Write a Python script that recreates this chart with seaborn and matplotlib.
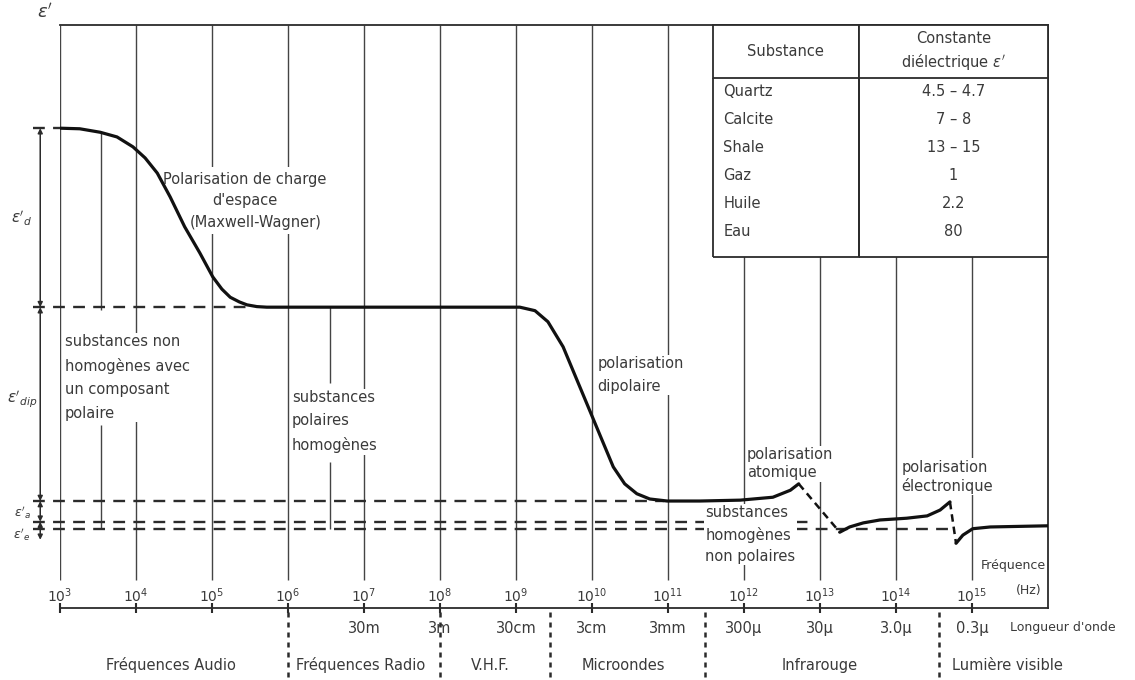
import numpy as np
import matplotlib
matplotlib.use("Agg")
import matplotlib.pyplot as plt
import seaborn as sns
from matplotlib.table import Table
from matplotlib.patches import Rectangle
from matplotlib.ticker import NullLocator

# courbe eps' = f(frequence) ; x en exposant de 10 (Hz), eps' en unites arbitraires
log_f_basse = [3.00, 3.26, 3.53, 3.75, 3.96, 4.12, 4.28, 4.45, 4.64, 4.84,
               5.01, 5.13, 5.24, 5.36, 5.46, 5.59, 5.72,
               9.05, 9.25, 9.42, 9.62, 9.78, 9.95, 10.11, 10.28, 10.43, 10.59,
               10.76, 10.99, 11.42, 11.95, 12.38, 12.61, 12.72]
eps_basse = [82.3, 82.2, 81.6, 80.8, 79.1, 77.2, 74.6, 70.5, 65.4, 60.9,
             56.8, 54.7, 53.3, 52.5, 52.0, 51.7, 51.6,
             51.6, 51.0, 49.1, 44.8, 39.8, 34.5, 29.5, 24.2, 21.3, 19.6,
             18.7, 18.35, 18.35, 18.5, 19.0, 20.2, 21.3]
log_f_ir = [13.26, 13.39, 13.57, 13.79, 14.14, 14.41, 14.58, 14.71]
eps_ir = [13.0, 13.9, 14.6, 15.1, 15.4, 15.8, 16.8, 18.2]
log_f_uv = [14.79, 14.88, 15.01, 15.24, 16.0]
eps_uv = [11.1, 12.5, 13.6, 13.9, 14.1]

# niveaux (eps_s, Maxwell-Wagner, dipolaire, atomique, eps_inf) et fin des tirets
niveaux = [82.3, 51.6, 18.35, 14.8, 13.6]
niveaux_fin = [3.0, 5.5, 10.95, 12.93, 14.78]
fleche_bas = 11.7
niveaux_labels = [r"$\epsilon'_d$", r"$\epsilon'_{dip}$", r"$\epsilon'_a$", r"$\epsilon'_e$"]
niveaux_labels_y = [66.9, 35.7, 16.4, 12.5]

decades = [3, 4, 5, 6, 7, 8, 9, 10, 11, 12, 13, 14, 15]

long_onde_log = [7, 8, 9, 10, 11, 12, 13, 14, 15]
long_onde = ["30m", "3m", "30cm", "3cm", "3mm", "300µ", "30µ", "3.0µ", "0.3µ"]

bandes = ["Fréquences Audio", "Fréquences Radio", "V.H.F.", "Microondes", "Infrarouge"]
bandes_log = [4.46, 6.96, 8.66, 10.41, 12.99]
limites_bandes = [6.0, 8.0, 9.45, 11.49, 14.57]

# traits de rappel (x, y haut, y bas)
rappels_log = [3.54, 3.54, 6.55, 6.55]
rappels_haut = [81.6, 31.4, 51.6, 25.0]
rappels_bas = [51.1, 13.6, 38.6, 13.6]

substances = ["Quartz", "Calcite", "Shale", "Gaz", "Huile", "Eau"]
constantes = ["4.5 – 4.7", "7 – 8", "13 – 15", "1", "2.2", "80"]

sns.set_theme(style="white")
plt.rcParams["font.family"] = ["DejaVu Sans"]
plt.rcParams["mathtext.fontset"] = "dejavusans"

encre = "#2b2b2b"
txt = "#3a3a3a"
fs = 10.5
blanc = dict(facecolor="white", edgecolor="none", pad=1.0)
blanc_large = dict(facecolor="white", edgecolor="none", pad=3.5)

fig = plt.figure(figsize=(11.35, 6.8), dpi=100)
ax = fig.add_axes([0.05286, 0.10588, 0.87048, 0.85735])
ax.set_xscale("log")
ax.set_xlim(1e3, 1e16)
ax.set_ylim(0, 100)

hz = lambda v: 10.0 ** np.asarray(v, dtype=float)

# grille verticale par decade
ax.vlines(hz(decades), 4.8, 100, color="#444444", lw=1.0, zorder=1.5)
for xl, y0, y1 in zip(rappels_log, rappels_haut, rappels_bas):
    ax.vlines(hz(xl), y1, y0, color="#444444", lw=1.0, zorder=1.5)

# niveaux en tirets
for niv, fin in zip(niveaux, niveaux_fin):
    ax.plot(hz([2.65, fin]), [niv, niv], color=encre, lw=1.7,
            ls=(0, (5, 3.5)), clip_on=False, zorder=2)

# fleches des contributions a gauche
bornes = niveaux[:4] + [fleche_bas]
for y0, y1 in zip(bornes[:-1], bornes[1:]):
    ax.annotate("", xy=(hz(2.74), y1), xytext=(hz(2.74), y0),
                arrowprops=dict(arrowstyle="<|-|>", color=encre, lw=1.1,
                                mutation_scale=7, shrinkA=0, shrinkB=0),
                annotation_clip=False)
for i, (lab, yl) in enumerate(zip(niveaux_labels, niveaux_labels_y)):
    ax.text(hz(2.5), yl, lab, ha="center", va="center",
            fontsize=11 if i < 2 else 9, color=txt, clip_on=False)
ax.text(hz(2.8), 102.2, r"$\epsilon'$", ha="center", va="center",
        fontsize=13, color=txt, clip_on=False)

# courbe
for lf, ep in [(log_f_basse, eps_basse), (log_f_ir, eps_ir), (log_f_uv, eps_uv)]:
    sns.lineplot(x=hz(lf), y=ep, ax=ax, color="#111111", lw=2.3,
                 sort=False, estimator=None, zorder=4)
for a, b in [((log_f_basse, eps_basse), (log_f_ir, eps_ir)),
             ((log_f_ir, eps_ir), (log_f_uv, eps_uv))]:
    ax.plot(hz([a[0][-1], b[0][0]]), [a[1][-1], b[1][0]], color="#111111",
            lw=1.8, ls=(0, (3, 2)), zorder=4)

# textes
ax.text(hz(5.43), 71.7, "Polarisation de charge\nd'espace",
        ha="center", va="center", fontsize=fs, color=txt, linespacing=1.45,
        bbox=blanc_large, zorder=3)
ax.text(hz(5.58), 66.2, "(Maxwell-Wagner)",
        ha="center", va="center", fontsize=fs, color=txt,
        bbox=blanc_large, zorder=3)
ax.text(hz(3.06), 47.0, "substances non\nhomogènes avec\nun composant\npolaire",
        ha="left", va="top", fontsize=fs, color=txt, linespacing=1.7,
        bbox=blanc, zorder=3)
ax.text(hz(6.05), 37.4, "substances\npolaires\nhomogènes", ha="left", va="top",
        fontsize=fs, color=txt, linespacing=1.7, bbox=blanc, zorder=3)
ax.text(hz(10.07), 43.2, "polarisation\ndipolaire", ha="left", va="top",
        fontsize=fs, color=txt, linespacing=1.65, bbox=blanc, zorder=3)
ax.text(hz(12.04), 27.6, "polarisation\natomique", ha="left", va="top",
        fontsize=fs, color=txt, linespacing=1.25, bbox=blanc, zorder=3)
ax.text(hz(14.07), 25.4, "polarisation\nélectronique", ha="left", va="top",
        fontsize=fs, color=txt, linespacing=1.2, bbox=blanc, zorder=3)
ax.text(hz(11.49), 17.6, "substances\nhomogènes\nnon polaires", ha="left",
        va="top", fontsize=fs, color=txt, linespacing=1.5, bbox=blanc, zorder=3)
ax.text(hz(15.97), 7.3, "Fréquence", ha="right", va="center", fontsize=9,
        color=txt, bbox=blanc, zorder=3)
ax.text(hz(15.92), 3.0, "(Hz)", ha="right", va="center", fontsize=9,
        color=txt, zorder=3)

# axe des frequences
ax.set_xticks(hz(decades), labels=[f"$10^{{{d}}}$" for d in decades])
ax.xaxis.set_minor_locator(NullLocator())
ax.set_yticks([])
ax.tick_params(axis="x", which="major", direction="inout", length=7, width=1.5,
               pad=-19, labelsize=10, color=encre, labelcolor=txt, bottom=True)
for side in ["top", "right", "bottom"]:
    ax.spines[side].set_color(encre)
    ax.spines[side].set_linewidth(1.3)
ax.spines["left"].set_visible(False)

sec = ax.secondary_xaxis("bottom")
sec.set_xticks(hz(long_onde_log), labels=long_onde)
sec.xaxis.set_minor_locator(NullLocator())
sec.tick_params(length=0, pad=9, labelsize=fs, labelcolor=txt)
sec.spines["bottom"].set_visible(False)
ax.text(hz(15.5), -3.3, "Longueur d'onde", ha="left", va="center",
        fontsize=9, color=txt, clip_on=False)

# bandes de frequences
for lab, xl in zip(bandes, bandes_log):
    ax.text(hz(xl), -9.8, lab, ha="center", va="center", fontsize=fs,
            color=txt, clip_on=False)
ax.text(hz(limites_bandes[-1] + 0.17), -9.8, "Lumière visible", ha="left",
        va="center", fontsize=fs, color=txt, clip_on=False)
ax.vlines(hz(limites_bandes), -0.7, -12.4, color=encre, lw=1.8,
          linestyles=(0, (2, 2)), clip_on=False)

# tableau des constantes dielectriques
cadre = [0.661, 0.602, 0.339, 0.398]
ax.add_patch(Rectangle(cadre[:2], cadre[2], cadre[3], transform=ax.transAxes,
                       facecolor="white", edgecolor="none", zorder=4.8))
tab = Table(ax, bbox=cadre)
larg = [146, 190]
entetes = ["Substance", "Constante\ndiélectrique " + r"$\epsilon'$"]
for c in range(2):
    cell = tab.add_cell(0, c, larg[c], 53, text=entetes[c], loc="center",
                        edgecolor=encre)
    cell.visible_edges = "closed"
lignes = list(zip(substances, constantes))
for r, (s, k) in enumerate(lignes, start=1):
    c0 = tab.add_cell(r, 0, larg[0], 28, text=s, loc="left", edgecolor=encre)
    c1 = tab.add_cell(r, 1, larg[1], 28, text=k, loc="center", edgecolor=encre)
    c0.visible_edges = "LR"
    c1.visible_edges = "LR"
n = len(lignes) + 1
for c in range(2):
    cell = tab.add_cell(n, c, larg[c], 12, text="", edgecolor=encre)
    cell.visible_edges = "BLR"
tab.auto_set_font_size(False)
tab.set_fontsize(fs)
for (r, c), cell in tab.get_celld().items():
    cell.set_linewidth(1.3)
    cell.get_text().set_color(txt)
    cell.get_text().set_linespacing(1.45)
    if c == 0:
        cell.PAD = 0.07
tab.set_zorder(5)
ax.add_table(tab)

fig.savefig("out.png", dpi=100)
